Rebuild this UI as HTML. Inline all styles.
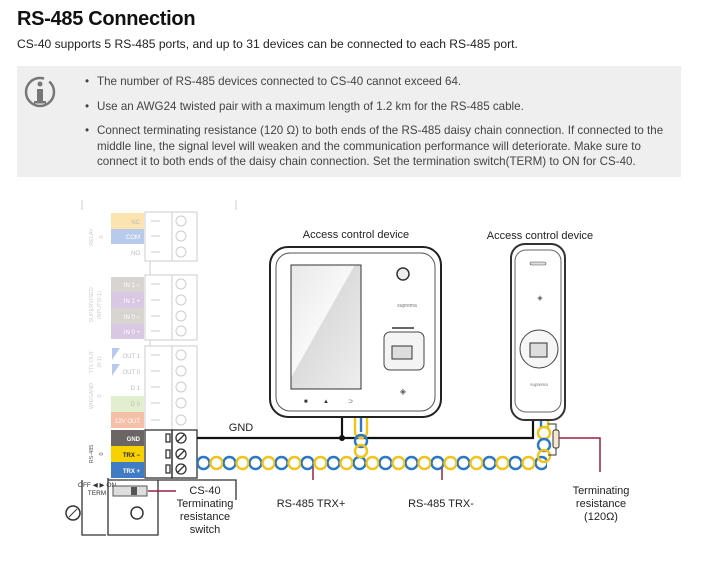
<!DOCTYPE html>
<html><head><meta charset="utf-8"><style>
body{margin:0;width:703px;height:571px;background:#fff;font-family:"Liberation Sans",sans-serif;color:#222;position:relative;overflow:hidden}
h1{position:absolute;left:17px;top:8px;margin:0;font-size:20px;font-weight:bold;color:#111;letter-spacing:-0.3px}
.sub{position:absolute;left:17px;top:37px;font-size:12.1px}
.box{position:absolute;left:17px;top:66px;width:664px;height:111px;background:#efefef}
.box ul{position:absolute;left:68px;top:8px;margin:0;padding:0;list-style:none;font-size:11.6px;color:#444;line-height:15.5px}
.box li{position:relative;padding-left:12px;margin-bottom:9px;white-space:nowrap}
.box li:before{content:"•";position:absolute;left:0}
svg{position:absolute;left:0;top:0}
</style></head><body>
<h1>RS-485 Connection</h1>
<div class="sub">CS-40 supports 5 RS-485 ports, and up to 31 devices can be connected to each RS-485 port.</div>
<div class="box"><ul>
<li>The number of RS-485 devices connected to CS-40 cannot exceed 64.</li>
<li>Use an AWG24 twisted pair with a maximum length of 1.2 km for the RS-485 cable.</li>
<li>Connect terminating resistance (120 Ω) to both ends of the RS-485 daisy chain connection. If connected to the<br>middle line, the signal level will weaken and the communication performance will deteriorate. Make sure to<br>connect it to both ends of the daisy chain connection. Set the termination switch(TERM) to ON for CS-40.</li>
</ul></div>
<svg width="703" height="571" viewBox="0 0 703 571" font-family="Liberation Sans, sans-serif">
<defs>
<pattern id="tw" x="197" y="455" width="26" height="16" patternUnits="userSpaceOnUse">
<circle cx="6.5" cy="8" r="6" fill="none" stroke="#2a78c6" stroke-width="2.4"/>
<circle cx="19.5" cy="8" r="6" fill="none" stroke="#f2c318" stroke-width="2.4"/>
</pattern>
<linearGradient id="scr" x1="0" y1="0" x2="1" y2="1"><stop offset="0" stop-color="#e8e8e8"/><stop offset=".45" stop-color="#f8f8f8"/><stop offset=".46" stop-color="#dcdcdc"/><stop offset="1" stop-color="#eee"/></linearGradient>
</defs>
<!-- info icon -->
<circle cx="40" cy="92" r="14" fill="none" stroke="#777" stroke-width="2.5" stroke-dasharray="70 6 12 6"/>
<circle cx="40" cy="84" r="2.5" fill="#777"/><rect x="37" y="89" width="6" height="13" fill="#777"/><rect x="34" y="101" width="12" height="2.5" fill="#777"/>
<!-- terminal block -->
<path d="M82 210 V200 M236 200 V210" stroke="#ccc" fill="none"/>
<g font-size="6" text-anchor="end" fill="#bbb">
<rect x="111" y="213" width="33" height="16" fill="#fbe4b0"/><text x="140" y="224">NC</text>
<rect x="111" y="229" width="33" height="15" fill="#b9cbec"/><text x="140" y="239" fill="#fff">COM</text>
<text x="140" y="255">NO</text>
<rect x="111" y="277" width="33" height="15" fill="#d8d4d0"/><text x="140" y="287" fill="#fff">IN 1 −</text>
<rect x="111" y="292" width="33" height="16" fill="#d9c8e4"/><text x="140" y="303" fill="#fff">IN 1 +</text>
<rect x="111" y="308" width="33" height="16" fill="#d8d4d0"/><text x="140" y="319" fill="#fff">IN 0 −</text>
<rect x="111" y="324" width="33" height="15" fill="#d9c8e4"/><text x="140" y="334" fill="#fff">IN 0 +</text>
<path d="M112 348 l8 0 l-8 12z M112 364 l8 0 l-8 12z" fill="#b9cbec"/>
<text x="140" y="358">OUT 1</text><text x="140" y="374">OUT 0</text><text x="140" y="390">D 1</text>
<rect x="111" y="396" width="33" height="16" fill="#e2efcf"/><text x="140" y="406">D 0</text>
<rect x="111" y="412" width="33" height="16" fill="#f6c0a8"/><text x="140" y="423" fill="#fff">12V OUT</text>
<rect x="111" y="430" width="33" height="16" fill="#6b6663"/><text x="140" y="441" fill="#fff" font-weight="bold">GND</text>
<rect x="111" y="446" width="33" height="16" fill="#f8d200"/><text x="140" y="457" fill="#222" font-weight="bold">TRX −</text>
<rect x="111" y="462" width="33" height="16" fill="#3f7cc4"/><text x="140" y="473" fill="#fff" font-weight="bold">TRX +</text>
</g>
<g font-size="5.5" fill="#ccc" text-anchor="middle">
<text transform="translate(93,237) rotate(-90)">RELAY</text><text transform="translate(103,237) rotate(-90)">0</text>
<text transform="translate(93,305) rotate(-90)">SUPERVISED</text><text transform="translate(101,305) rotate(-90)">INPUT(0:1)</text>
<text transform="translate(93,362) rotate(-90)">TTL OUT</text><text transform="translate(101,362) rotate(-90)">(0:1)</text>
<text transform="translate(93,396) rotate(-90)">WIEGAND</text><text transform="translate(101,396) rotate(-90)">0</text>
<text transform="translate(93,454) rotate(-90)" fill="#555">RS-485</text><text transform="translate(103,454) rotate(-90)" fill="#555">0</text>
</g>
<g fill="none" stroke="#ccc">
<rect x="145" y="212" width="27" height="49"/><rect x="172" y="212" width="25" height="49"/>
<rect x="145" y="275" width="27" height="65"/><rect x="172" y="275" width="25" height="65"/>
<rect x="145" y="346" width="27" height="84"/><rect x="172" y="346" width="25" height="84"/>
<path d="M150 261 V275 M150 340 V346"/>
<circle cx="181" cy="221" r="5"/><circle cx="181" cy="236" r="5"/><circle cx="181" cy="252" r="5"/>
<circle cx="181" cy="284" r="5"/><circle cx="181" cy="300" r="5"/><circle cx="181" cy="316" r="5"/><circle cx="181" cy="331" r="5"/>
<circle cx="181" cy="355" r="5"/><circle cx="181" cy="371" r="5"/><circle cx="181" cy="387" r="5"/><circle cx="181" cy="403" r="5"/><circle cx="181" cy="420" r="5"/>
<path d="M151 221 H160 M151 236 H160 M151 252 H160 M151 284 H160 M151 300 H160 M151 316 H160 M151 331 H160 M151 355 H160 M151 371 H160 M151 387 H160 M151 403 H160 M151 420 H160"/>
</g>
<g fill="none" stroke="#333" stroke-width="1.3">
<rect x="145" y="430" width="27" height="48"/><rect x="172" y="430" width="25" height="48"/>
<circle cx="181" cy="438" r="5"/><circle cx="181" cy="454" r="5"/><circle cx="181" cy="469" r="5"/>
<path d="M177 442 l8-8 M177 458 l8-8 M177 473 l8-8"/>
<rect x="166" y="434" width="4" height="8"/><rect x="166" y="450" width="4" height="8"/><rect x="166" y="465" width="4" height="8"/>
<path d="M108 478 V480 H236 V500 M108 480 V535 H158 V480"/>
<path d="M82 480 V535 H106" stroke-width="1.3"/>
</g>
<text x="97" y="487" font-size="6.5" text-anchor="middle" fill="#333">OFF ◀ ▶ ON</text>
<text x="97" y="495" font-size="6.5" text-anchor="middle" fill="#333">TERM</text>
<rect x="113" y="486" width="34" height="10" fill="#ddd" stroke="#555"/><rect x="131" y="487" width="6" height="8" fill="#555"/>
<circle cx="73" cy="513" r="7" fill="none" stroke="#333" stroke-width="1.5"/><path d="M69 517 l8-8" stroke="#333"/>
<circle cx="137" cy="513" r="6" fill="none" stroke="#333" stroke-width="1.5"/>
<path d="M148 491 H176" stroke="#9a2040" stroke-width="1.5"/>
<!-- wires -->
<path d="M197 438 H533 V418" stroke="#111" stroke-width="2.2" fill="none"/>
<path d="M342 438 V418" stroke="#111" stroke-width="2.2"/><circle cx="342" cy="438" r="3" fill="#111"/>
<rect x="197" y="455" width="350" height="16" fill="url(#tw)"/>
<!-- vertical twists -->
<g fill="none" stroke-width="2.4">
<path d="M355 418 V432 a6 6 0 0 0 12 0 V418" stroke="#f2c318"/><path d="M361 418 V432" stroke="#2a78c6"/>
<circle cx="361" cy="441" r="6" stroke="#2a78c6"/><circle cx="361" cy="451" r="6" stroke="#f2c318"/>
<path d="M541 418 V428" stroke="#2a78c6"/><path d="M548 418 V428" stroke="#f2c318"/>
<circle cx="544" cy="433" r="6" stroke="#f2c318"/><circle cx="544" cy="445" r="6" stroke="#2a78c6"/><circle cx="544" cy="456" r="6" stroke="#f2c318"/>
</g>
<path d="M548 424 H556 V455 H548" stroke="#333" fill="none"/>
<rect x="553" y="430" width="6" height="18" rx="2" fill="#f4e8d0" stroke="#333"/>
<path d="M559 438 H600 V472" stroke="#9a2040" stroke-width="1.5" fill="none"/>
<path d="M313 467 V480 M442 467 V480" stroke="#9a2040" stroke-width="1.5"/>
<!-- device 1 -->
<rect x="270" y="247" width="171" height="170" rx="18" fill="#fff" stroke="#222" stroke-width="2"/>
<rect x="276" y="253" width="159" height="158" rx="14" fill="none" stroke="#555"/>
<rect x="291" y="265" width="70" height="124" fill="url(#scr)" stroke="#333"/>
<circle cx="403" cy="274" r="6" fill="#eee" stroke="#333" stroke-width="1.5"/>
<text x="407" y="307" font-size="5" fill="#777" text-anchor="middle">suprema</text>
<rect x="392" y="327" width="22" height="2" fill="#666"/>
<rect x="384" y="332" width="40" height="38" rx="6" fill="#f4f4f4" stroke="#444"/>
<rect x="392" y="346" width="20" height="13" fill="#ddd" stroke="#333"/>
<text x="403" y="394" font-size="8" fill="#555" text-anchor="middle">◈</text>
<text x="304" y="403" font-size="6" fill="#333">■</text><text x="323" y="403" font-size="6" fill="#333">▲</text><text x="348" y="403" font-size="6" fill="#333">⊃</text>
<!-- device 2 -->
<rect x="511" y="244" width="54" height="176" rx="14" fill="#fff" stroke="#333" stroke-width="2"/>
<rect x="515" y="250" width="46" height="162" rx="11" fill="none" stroke="#666"/>
<rect x="530" y="262" width="16" height="3" rx="1.5" fill="#ddd" stroke="#555" stroke-width=".6"/>
<text x="540" y="300" font-size="7" fill="#555" text-anchor="middle">◈</text>
<circle cx="539" cy="349" r="19" fill="#f6f6f6" stroke="#444"/>
<rect x="530" y="343" width="17" height="14" fill="#ddd" stroke="#333"/>
<text x="539" y="386" font-size="4.5" fill="#777" text-anchor="middle">suprema</text>
<!-- labels -->
<g font-size="11" fill="#222" text-anchor="middle">
<text x="356" y="238">Access control device</text>
<text x="540" y="239">Access control device</text>
<text x="241" y="431">GND</text>
<text x="205" y="494">CS-40</text><text x="205" y="507">Terminating</text><text x="205" y="520">resistance</text><text x="205" y="533">switch</text>
<text x="311" y="507">RS-485 TRX+</text>
<text x="441" y="507">RS-485 TRX-</text>
<text x="601" y="494">Terminating</text><text x="601" y="507">resistance</text><text x="601" y="520">(120Ω)</text>
</g>
</svg>
</body></html>
